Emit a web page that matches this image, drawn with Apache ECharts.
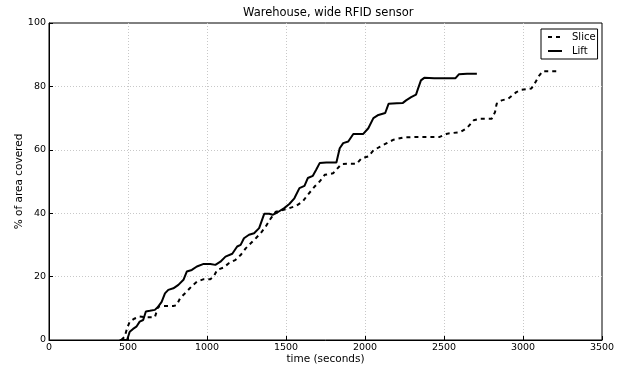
<!DOCTYPE html>
<html>
<head>
<meta charset="utf-8">
<script src="https://cdn.jsdelivr.net/npm/echarts@6/dist/echarts.min.js"></script>
<style>
  html, body { margin: 0; padding: 0; background: #fff; }
  #chart { width: 629px; height: 367px; }
</style>
</head>
<body>
<div id="chart"></div>
<script>
// Coverage over time for two motion strategies (time in seconds, % covered)
const sliceTime = [457, 479, 494, 511, 543, 574, 617, 670, 691, 723, 787, 808, 830, 872, 904, 936, 979, 1021, 1042, 1064, 1106, 1138, 1181, 1213, 1245, 1277, 1309, 1340, 1372, 1404, 1436, 1479, 1521, 1564, 1606, 1638, 1681, 1713, 1745, 1798, 1851, 1904, 1947, 1979, 2021, 2053, 2096, 2138, 2181, 2245, 2313, 2469, 2521, 2604, 2646, 2688, 2729, 2802, 2823, 2833, 2865, 2906, 2958, 2990, 3052, 3073, 3104, 3125, 3229];
const sliceCover = [0, 1, 3.7, 5.8, 6.8, 7.4, 7.2, 7.2, 10.5, 10.7, 10.7, 11, 13.2, 15.3, 17, 18.4, 19.2, 19.2, 20, 22.1, 22.9, 24.2, 25.3, 26.8, 28.9, 30.5, 32.1, 33.7, 35.8, 38.4, 40.5, 41, 41.6, 42.3, 43.7, 45.8, 48.4, 50, 52.1, 52.6, 55.5, 55.6, 55.6, 57.4, 57.9, 59.8, 61, 62.1, 63.2, 63.9, 64, 64, 65.1, 65.6, 66.9, 69.3, 69.8, 69.8, 71.9, 74.5, 75.6, 76.1, 78.2, 78.9, 79.3, 80.8, 83.5, 84.8, 84.8];

const liftTime = [447, 494, 511, 532, 553, 574, 596, 613, 638, 670, 691, 713, 734, 755, 787, 819, 851, 872, 904, 936, 979, 1021, 1053, 1085, 1117, 1160, 1191, 1213, 1234, 1266, 1298, 1330, 1362, 1394, 1415, 1447, 1489, 1521, 1553, 1585, 1617, 1638, 1670, 1691, 1713, 1755, 1819, 1840, 1862, 1894, 1926, 1989, 2021, 2053, 2085, 2128, 2149, 2202, 2240, 2260, 2292, 2323, 2333, 2354, 2375, 2438, 2573, 2594, 2646, 2708];
const liftCover = [0, 0, 2.6, 3.5, 4.2, 5.8, 6.3, 9, 9.2, 9.5, 10.5, 12, 14.7, 15.8, 16.3, 17.4, 19, 21.6, 22.1, 23.2, 24, 24, 23.7, 24.7, 26.3, 27.2, 29.5, 30, 32.1, 33.2, 33.7, 35.3, 39.8, 39.8, 39.5, 40.3, 41.6, 42.9, 44.7, 47.9, 48.6, 51.1, 51.8, 53.7, 55.8, 56, 56, 60.5, 62.1, 62.6, 65, 65, 66.8, 70, 71, 71.6, 74.5, 74.7, 74.8, 75.6, 76.6, 77.4, 78.9, 81.9, 82.7, 82.6, 82.6, 83.8, 84, 84];

const xTicks = [0, 500, 1000, 1500, 2000, 2500, 3000, 3500];
const yTicks = [0, 20, 40, 60, 80, 100];

const zip = (xs, ys) => xs.map((x, i) => [x, ys[i]]);
const FONT = 'DejaVu Sans';

const chart = echarts.init(document.getElementById('chart'), null, { renderer: 'canvas' });

const gridLine = { show: true, showMinLine: false, showMaxLine: false,
  lineStyle: { color: '#c8c8c8', type: [1, 2], width: 1 } };
const tick = { show: true, inside: true, length: 4, lineStyle: { color: '#000' } };
const frame = { show: true, lineStyle: { color: '#000', width: 1 } };
const tickFont = { fontFamily: FONT, fontSize: 9.5, color: '#000' };

chart.setOption({
  animation: false,
  backgroundColor: '#fff',
  graphic: [{
    type: 'text', left: 243, top: 7, z: 10,
    style: { text: 'Warehouse, wide RFID sensor', font: '11.5px "DejaVu Sans"', fill: '#000' }
  }],
  legend: {
    left: 541, top: 29,
    orient: 'vertical',
    itemWidth: 14, itemHeight: 10, itemGap: 4,
    padding: [3, 2, 3, 6],
    borderColor: '#000', borderWidth: 1,
    backgroundColor: '#fff',
    itemStyle: { opacity: 0 },
    textStyle: { fontFamily: FONT, fontSize: 10, color: '#000', padding: [0, 0, 0, 5] },
    data: ['Slice', 'Lift']
  },
  grid: { left: 49, right: 27, top: 23, bottom: 27, outerBoundsMode: 'none',
    show: true, borderColor: '#000', borderWidth: 1 },
  xAxis: {
    type: 'value', min: 0, max: 3500, interval: 500,
    name: 'time (seconds)', nameLocation: 'middle', nameGap: 14, nameMoveOverlap: false,
    nameTextStyle: { fontFamily: FONT, fontSize: 10.5, color: '#000' },
    axisLine: frame, axisTick: tick,
    axisLabel: Object.assign({ margin: 3, formatter: v => xTicks.includes(v) ? String(v) : '' }, tickFont),
    splitLine: gridLine
  },
  yAxis: {
    type: 'value', min: 0, max: 100, interval: 20,
    name: '% of area covered', nameLocation: 'middle', nameGap: 24, nameRotate: 90, nameMoveOverlap: false,
    nameTextStyle: { fontFamily: FONT, fontSize: 10.5, color: '#000' },
    axisLine: frame, axisTick: tick,
    axisLabel: Object.assign({ margin: 3, formatter: v => yTicks.includes(v) ? String(v) : '' }, tickFont),
    splitLine: gridLine
  },
  series: [{
    name: 'Slice', type: 'line', symbol: 'none',
    data: zip(sliceTime, sliceCover),
    itemStyle: { color: '#000' },
    lineStyle: { color: '#000', width: 2, type: [4, 4] }
  }, {
    name: 'Lift', type: 'line', symbol: 'none',
    data: zip(liftTime, liftCover),
    itemStyle: { color: '#000' },
    lineStyle: { color: '#000', width: 2 }
  }]
});
</script>
</body>
</html>
